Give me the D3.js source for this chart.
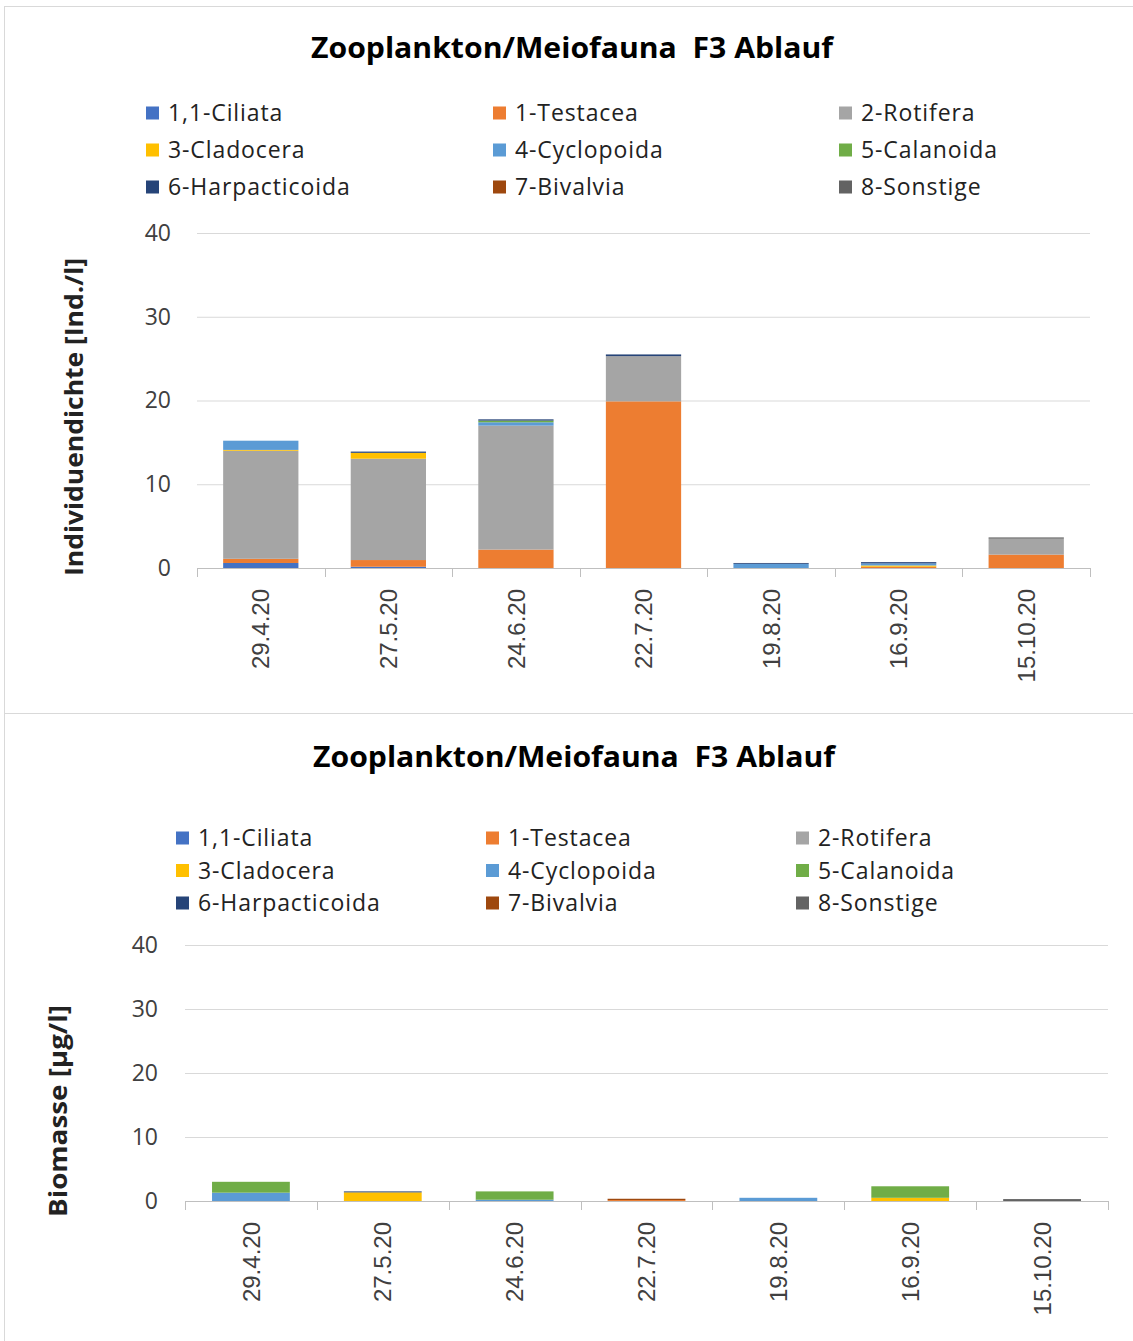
<!DOCTYPE html>
<html>
<head>
<meta charset="utf-8">
<script src="https://cdn.jsdelivr.net/npm/d3@7"></script>
<style>
  body { margin: 0; background: #fff; }
  svg { display: block; }
</style>
</head>
<body>
<div id="chart"></div>
<script>
const dates = ["29.4.20", "27.5.20", "24.6.20", "22.7.20", "19.8.20", "16.9.20", "15.10.20"];
const groups = ["1,1-Ciliata", "1-Testacea", "2-Rotifera", "3-Cladocera", "4-Cyclopoida",
  "5-Calanoida", "6-Harpacticoida", "7-Bivalvia", "8-Sonstige"];
const colors = ["#4472C4", "#ED7D31", "#A5A5A5", "#FFC000", "#5B9BD5", "#70AD47", "#264478", "#9E480E", "#636363"];
const yTicks = [0, 10, 20, 30, 40];

// Individuendichte [Ind./l], one array per group, in date order
const dCiliata = [0.6, 0.15, 0, 0, 0, 0, 0];
const dTestacea = [0.5, 0.8, 2.2, 19.9, 0, 0.15, 1.6];
const dRotifera = [12.9, 12.1, 14.8, 5.4, 0, 0, 1.9];
const dCladocera = [0.1, 0.7, 0, 0, 0, 0.15, 0];
const dCyclopoida = [1.1, 0, 0.4, 0, 0.5, 0.25, 0];
const dCalanoida = [0, 0, 0.2, 0, 0, 0, 0];
const dHarpacticoida = [0, 0.15, 0.15, 0.2, 0.1, 0.15, 0];
const dBivalvia = [0, 0, 0, 0, 0, 0, 0];
const dSonstige = [0, 0, 0, 0, 0, 0, 0.15];

// Biomasse [µg/l]
const bCiliata = [0, 0, 0, 0, 0, 0, 0];
const bTestacea = [0, 0, 0, 0.15, 0, 0, 0];
const bRotifera = [0, 0, 0, 0, 0, 0, 0];
const bCladocera = [0, 1.35, 0, 0, 0, 0.5, 0];
const bCyclopoida = [1.3, 0, 0.2, 0, 0.5, 0, 0];
const bCalanoida = [1.7, 0, 1.3, 0, 0, 1.8, 0];
const bHarpacticoida = [0, 0.15, 0, 0, 0, 0, 0];
const bBivalvia = [0, 0, 0, 0.2, 0, 0, 0];
const bSonstige = [0, 0, 0, 0, 0, 0, 0.3];

const W = 1133, H = 1341;
const svg = d3.select("#chart").append("svg")
  .attr("width", W).attr("height", H);

// panel frames
svg.append("rect").attr("x", 4.5).attr("y", 6.5).attr("width", W).attr("height", 707)
  .attr("fill", "none").attr("stroke", "#d9d9d9");
svg.append("rect").attr("x", 4.5).attr("y", 713.5).attr("width", W).attr("height", 640)
  .attr("fill", "none").attr("stroke", "#d9d9d9");

const drawChart = (cfg) => {
  const series = cfg.values;
  const table = dates.map((d, i) => {
    const row = { date: d };
    groups.forEach((g, j) => { row[g] = series[j][i]; });
    return row;
  });
  const stacked = d3.stack().keys(groups)(table);

  const x = d3.scaleBand().domain(dates)
    .range([cfg.left, cfg.right]).paddingInner(0.41).paddingOuter(0.205);
  const y = d3.scaleLinear().domain([0, 40]).range([cfg.bottom, cfg.top]);

  const g = svg.append("g");

  // title
  g.append("text")
    .attr("x", cfg.titleX).attr("y", cfg.titleY)
    .attr("text-anchor", "middle")
    .attr("font-family", "'Open Sans', sans-serif")
    .attr("font-weight", "bold").attr("font-size", 28)
    .attr("textLength", 522).attr("lengthAdjust", "spacingAndGlyphs")
    .attr("fill", "#000")
    .text("Zooplankton/Meiofauna\u00a0\u00a0F3 Ablauf");

  // legend
  groups.forEach((name, i) => {
    const col = i % 3, row = Math.floor(i / 3);
    const lx = cfg.legX[col], ly = cfg.legY + row * cfg.legStep;
    g.append("rect").attr("x", lx).attr("y", ly - 6.5)
      .attr("width", 13).attr("height", 13).attr("fill", colors[i]);
    g.append("text").attr("x", lx + 22).attr("y", ly)
      .attr("dy", "0.36em")
      .attr("font-family", "'Open Sans', sans-serif").attr("font-size", 23)
      .attr("letter-spacing", 0.9)
      .attr("fill", "#222").text(name);
  });

  // gridlines
  g.append("g").selectAll("line")
    .data(yTicks.filter(t => t > 0))
    .join("line")
    .attr("x1", cfg.left).attr("x2", cfg.right)
    .attr("y1", d => y(d) + 0.5).attr("y2", d => y(d) + 0.5)
    .attr("stroke", "#d9d9d9").attr("stroke-width", 1);

  // y axis
  g.append("g")
    .attr("transform", `translate(${cfg.left},0)`)
    .call(d3.axisLeft(y).tickValues(yTicks).tickSize(0).tickPadding(cfg.tickPad))
    .call(a => a.select(".domain").remove())
    .call(a => a.selectAll("text")
      .attr("font-family", "'Open Sans', sans-serif").attr("font-size", 23)
      .attr("fill", "#404040"));

  // bars
  g.append("g").selectAll("g")
    .data(stacked)
    .join("g")
    .attr("fill", (d, i) => colors[i])
    .selectAll("rect")
    .data(d => d)
    .join("rect")
    .attr("x", d => x(d.data.date))
    .attr("width", x.bandwidth())
    .attr("y", d => y(d[1]))
    .attr("height", d => y(d[0]) - y(d[1]));

  // x axis: line, category boundary ticks, rotated labels
  const bounds = d3.range(dates.length + 1).map(i => cfg.left + i * x.step());
  g.append("line")
    .attr("x1", cfg.left).attr("x2", cfg.right)
    .attr("y1", cfg.bottom + 0.5).attr("y2", cfg.bottom + 0.5)
    .attr("stroke", "#bfbfbf");
  g.append("g").selectAll("line")
    .data(bounds)
    .join("line")
    .attr("x1", d => Math.round(d) + 0.5).attr("x2", d => Math.round(d) + 0.5)
    .attr("y1", cfg.bottom).attr("y2", cfg.bottom + 9)
    .attr("stroke", "#bfbfbf");

  g.append("g")
    .attr("transform", `translate(0,${cfg.bottom})`)
    .call(d3.axisBottom(x).tickSize(0).tickPadding(0))
    .call(a => a.select(".domain").remove())
    .call(a => a.selectAll("text")
      .attr("transform", "rotate(-90)")
      .attr("x", -cfg.labelGap).attr("y", 0).attr("dy", "0.36em")
      .attr("text-anchor", "end")
      .attr("font-family", "'Liberation Sans', Arial, sans-serif").attr("font-size", 24)
      .attr("fill", "#404040"));

  // y axis title
  g.append("text")
    .attr("transform", `translate(${cfg.yTitleX},${cfg.yTitleY}) rotate(-90)`)
    .attr("text-anchor", "middle").attr("dy", "0.36em")
    .attr("font-family", "'Open Sans', sans-serif")
    .attr("font-weight", "bold").attr("font-size", 25)
    .attr("textLength", cfg.yTitleLen).attr("lengthAdjust", "spacingAndGlyphs")
    .attr("fill", "#222")
    .text(cfg.yTitle);
};

drawChart({
  values: [dCiliata, dTestacea, dRotifera, dCladocera, dCyclopoida, dCalanoida, dHarpacticoida, dBivalvia, dSonstige],
  left: 197, right: 1090, top: 233, bottom: 568,
  titleX: 572, titleY: 58,
  legX: [146, 493, 839], legY: 113, legStep: 37,
  tickPad: 26, labelGap: 21,
  yTitle: "Individuendichte [Ind./l]", yTitleX: 74, yTitleY: 417, yTitleLen: 318
});

drawChart({
  values: [bCiliata, bTestacea, bRotifera, bCladocera, bCyclopoida, bCalanoida, bHarpacticoida, bBivalvia, bSonstige],
  left: 185, right: 1108, top: 945, bottom: 1201,
  titleX: 574, titleY: 767,
  legX: [176, 486, 796], legY: 838, legStep: 32.5,
  tickPad: 27, labelGap: 21,
  yTitle: "Biomasse [µg/l]", yTitleX: 58, yTitleY: 1111, yTitleLen: 212
});
</script>
</body>
</html>
